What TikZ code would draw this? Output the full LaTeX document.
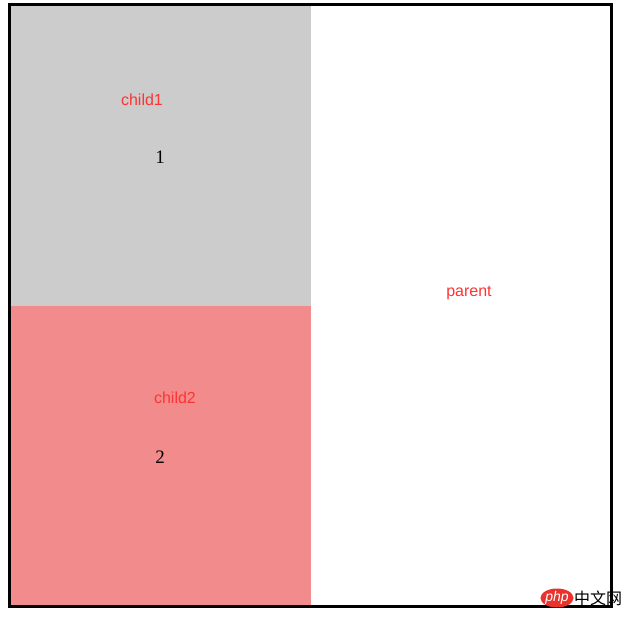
\documentclass[tikz,border=0pt]{standalone}
\usepackage{fontspec}
\usetikzlibrary{shapes.geometric}
\setmainfont{Liberation Sans}
\newfontfamily\numfont{Liberation Serif}
\newfontfamily\cjk{Noto Sans CJK SC}
\definecolor{boxgray}{HTML}{CCCCCC}
\definecolor{boxpink}{HTML}{F28C8C}
\definecolor{labelred}{HTML}{FF3333}
\definecolor{logored}{HTML}{E8322B}
\begin{document}
\begin{tikzpicture}[x=1pt,y=-1pt,
  lbl/.style={text=labelred,font=\fontsize{16}{18}\selectfont,inner sep=0pt},
  num/.style={text=black,font=\numfont\fontsize{19}{21}\selectfont,inner sep=0pt}]
\useasboundingbox (0,0) rectangle (634,618);
\fill[white] (0,0) rectangle (634,618);
% children
\fill[boxgray] (11,6) rectangle (311,306);
\fill[boxpink] (11,306) rectangle (311,606);
% parent border
\draw[line width=3pt] (9.5,4.5) rectangle (611.5,606.5);
% labels
\node[lbl] (c1) at (142,100) {child1};
\node[num] (n1) at (160,157) {1};
\node[lbl] (c2) at (175,398) {child2};
\node[num] (n2) at (160,457) {2};
\node[lbl] (p) at (469,292.5) {parent};
% watermark
\node[fill=logored,ellipse,minimum width=30pt,minimum height=19pt,inner sep=0pt,
  text=white,font=\itshape\fontsize{14}{14}\selectfont] (logo) at (557,598) {php};
\node[anchor=west,inner sep=0pt,font=\cjk\fontsize{16}{16}\selectfont] (cn) at (574,598) {中文网};
\end{tikzpicture}
\end{document}
